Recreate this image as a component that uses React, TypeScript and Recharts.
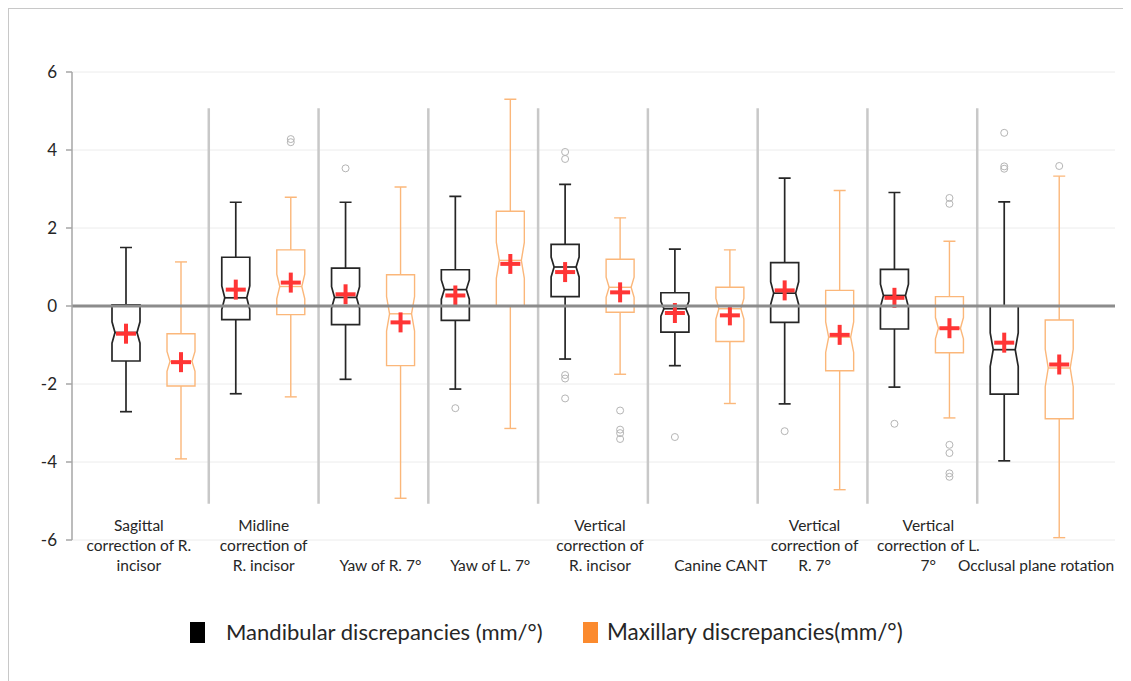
import { ComposedChart, Bar, XAxis, YAxis, CartesianGrid, ReferenceLine } from 'recharts';

const categories = [
  'Sagittal correction of R. incisor',
  'Midline correction of R. incisor',
  'Yaw of R. 7°',
  'Yaw of L. 7°',
  'Vertical correction of R. incisor',
  'Canine CANT',
  'Vertical correction of R. 7°',
  'Vertical correction of L. 7°',
  'Occlusal plane rotation',
];

const tickLabels = [
  ['Sagittal', 'correction of R.', 'incisor'],
  ['Midline', 'correction of', 'R. incisor'],
  ['Yaw of R. 7°'],
  ['Yaw of L. 7°'],
  ['Vertical', 'correction of', 'R. incisor'],
  ['Canine CANT'],
  ['Vertical', 'correction of', 'R. 7°'],
  ['Vertical', 'correction of L.', '7°'],
  ['Occlusal plane rotation'],
];

const yTicks = [-6, -4, -2, 0, 2, 4, 6];

// Mandibular discrepancies (mm/°)
const mandMin = [-2.71, -2.25, -1.88, -2.13, -1.36, -1.53, -2.51, -2.08, -3.97];
const mandQ1 = [-1.41, -0.35, -0.48, -0.37, 0.24, -0.67, -0.42, -0.59, -2.26];
const mandMedian = [-0.68, 0.21, 0.22, 0.42, 1.0, -0.07, 0.33, 0.27, -1.12];
const mandQ3 = [0.03, 1.25, 0.97, 0.93, 1.58, 0.34, 1.11, 0.94, 0.0];
const mandMax = [1.5, 2.66, 2.66, 2.81, 3.12, 1.46, 3.28, 2.91, 2.67];
const mandMean = [-0.71, 0.42, 0.3, 0.27, 0.87, -0.18, 0.4, 0.21, -0.94];
const mandOutliers = [[], [], [3.53], [-2.62], [3.95, 3.77, -1.77, -1.86, -2.37], [-3.36], [-3.21], [-3.02], [4.44, 3.58, 3.52]];

// Maxillary discrepancies (mm/°)
const maxMin = [-3.92, -2.33, -4.93, -3.14, -1.75, -2.5, -4.71, -2.87, -5.94];
const maxQ1 = [-2.05, -0.22, -1.53, 0.0, -0.16, -0.91, -1.66, -1.2, -2.89];
const maxMedian = [-1.42, 0.5, -0.2, 1.17, 0.48, -0.07, -0.8, -0.57, -1.59];
const maxQ3 = [-0.71, 1.44, 0.8, 2.43, 1.2, 0.48, 0.4, 0.24, -0.36];
const maxMax = [1.13, 2.79, 3.05, 5.3, 2.26, 1.44, 2.96, 1.66, 3.33];
const maxMean = [-1.44, 0.6, -0.42, 1.08, 0.35, -0.24, -0.74, -0.57, -1.5];
const maxOutliers = [[], [4.28, 4.2], [], [], [-2.68, -3.17, -3.26, -3.41], [], [], [2.77, 2.62, -3.56, -3.77, -4.29, -4.38], [3.59]];

const rows = categories.map((cat, i) => ({
  cat,
  mMin: mandMin[i], mQ1: mandQ1[i], mMed: mandMedian[i], mQ3: mandQ3[i], mMax: mandMax[i], mMean: mandMean[i], mOut: mandOutliers[i],
  xMin: maxMin[i], xQ1: maxQ1[i], xMed: maxMedian[i], xQ3: maxQ3[i], xMax: maxMax[i], xMean: maxMean[i], xOut: maxOutliers[i],
}));

const FONT = 'Lato, "Open Sans", sans-serif';
const BLACK = '#262626';
const ORANGE = '#fbb77a';
const MEAN_RED = '#ff3535';

const makeBoxShape = (p: string, color: string, sw: number) => (props: any) => {
  const { x, y, width, height, payload } = props;
  const lo = payload[p + 'Min'];
  const hi = payload[p + 'Max'];
  const top = Math.min(y, y + height);
  const h = Math.abs(height);
  const py = (v: number) => top + ((hi - v) / (hi - lo)) * h;
  const cx = x + width / 2;
  const l = x;
  const r = x + width;
  const yQ3 = py(payload[p + 'Q3']);
  const yQ1 = py(payload[p + 'Q1']);
  const yMed = py(payload[p + 'Med']);
  const yMean = py(payload[p + 'Mean']);
  const notch = Math.max(0, Math.min(0.19 * (yQ1 - yQ3), yMed - yQ3, yQ1 - yMed));
  const inset = 3;
  const d = `M${l},${yQ3} H${r} V${yMed - notch} L${r - inset},${yMed} L${r},${yMed + notch} V${yQ1} H${l} V${yMed + notch} L${l + inset},${yMed} L${l},${yMed - notch} Z`;
  const cap = 6;
  return (
    <g>
      <line x1={cx} x2={cx} y1={top} y2={yQ3} stroke={color} strokeWidth={sw} />
      <line x1={cx} x2={cx} y1={yQ1} y2={top + h} stroke={color} strokeWidth={sw} />
      <line x1={cx - cap} x2={cx + cap} y1={top} y2={top} stroke={color} strokeWidth={sw} />
      <line x1={cx - cap} x2={cx + cap} y1={top + h} y2={top + h} stroke={color} strokeWidth={sw} />
      <path d={d} fill="none" stroke={color} strokeWidth={sw} />
      <line x1={l + inset} x2={r - inset} y1={yMed} y2={yMed} stroke={color} strokeWidth={sw} />
      {(payload[p + 'Out'] as number[]).map((v, i) => (
        <circle key={i} cx={cx} cy={py(v)} r={3.5} fill="none" stroke="#b5b5b5" strokeWidth={1} />
      ))}
      <line x1={cx - 10} x2={cx + 10} y1={yMean} y2={yMean} stroke={MEAN_RED} strokeWidth={4} />
      <line x1={cx} x2={cx} y1={yMean - 10} y2={yMean + 10} stroke={MEAN_RED} strokeWidth={4} />
    </g>
  );
};

const LABEL_DX = [-15, 0, 7, 7, 7, 18, 2, 6, 4];

const CategoryTick = (props: any) => {
  const { x, y, index } = props;
  const lines = tickLabels[index] || [];
  const first = 31 - (lines.length - 1) * 20;
  const tx = x + (LABEL_DX[index] || 0);
  return (
    <text textAnchor="middle" fontSize={15.5} fill={BLACK} fontFamily={FONT}>
      {lines.map((line, i) => (
        <tspan key={i} x={tx} y={y + first + i * 20}>{line}</tspan>
      ))}
    </text>
  );
};

export default function App() {
  return (
    <div style={{ position: 'relative', width: 1115, height: 673, fontFamily: FONT, background: '#fff' }}>
      <div style={{ position: 'absolute', left: 0, top: 0, width: 1, height: 673, background: '#c8c8c8' }} />
      <div style={{ position: 'absolute', left: 0, top: 0, width: 1115, height: 1, background: '#c8c8c8' }} />
      <ComposedChart
        width={1115}
        height={590}
        data={rows}
        margin={{ top: 64, right: 8, bottom: 8, left: 0 }}
        barGap={27}
      >
        <CartesianGrid vertical={false} stroke="#ececec" />
        <XAxis
          dataKey="cat"
          axisLine={false}
          tickLine={false}
          tickSize={0}
          tickMargin={0}
          height={50}
          padding={{ left: 27, right: 28 }}
          interval={0}
          tick={<CategoryTick />}
        />
        <YAxis
          domain={[-6, 6]}
          ticks={yTicks}
          width={64}
          axisLine={{ stroke: '#a6a6a6', strokeWidth: 1.5 }}
          tickLine={{ stroke: '#a6a6a6', strokeWidth: 1.5 }}
          tickSize={6}
          tickMargin={9}
          tick={{ fontSize: 17, fill: BLACK, fontFamily: FONT }}
          allowDataOverflow
        />
        {categories.slice(1).map((c) => (
          <ReferenceLine
            key={c}
            segment={[{ x: c, y: 5.07 }, { x: c, y: -5.07 }]}
            position="start"
            stroke="#c8c8c8"
            strokeWidth={2.5}
          />
        ))}
        <ReferenceLine y={0} stroke="#8c8c8c" strokeWidth={3} />
        <Bar
          dataKey={(d: any) => [d.mMin, d.mMax]}
          barSize={28}
          isAnimationActive={false}
          shape={makeBoxShape('m', BLACK, 1.7)}
        />
        <Bar
          dataKey={(d: any) => [d.xMin, d.xMax]}
          barSize={28}
          isAnimationActive={false}
          shape={makeBoxShape('x', ORANGE, 1.4)}
        />
      </ComposedChart>
      <div style={{ position: 'absolute', left: 182, top: 614, width: 15, height: 21, background: '#000' }} />
      <div style={{ position: 'absolute', left: 218, top: 610, fontSize: 22, color: BLACK, lineHeight: '28px', whiteSpace: 'nowrap' }}>
        Mandibular discrepancies (mm/°)
      </div>
      <div style={{ position: 'absolute', left: 575, top: 614, width: 15, height: 21, background: '#fb8a2e' }} />
      <div style={{ position: 'absolute', left: 599, top: 610, fontSize: 22.5, color: BLACK, lineHeight: '28px', whiteSpace: 'nowrap' }}>
        Maxillary discrepancies(mm/°)
      </div>
    </div>
  );
}
